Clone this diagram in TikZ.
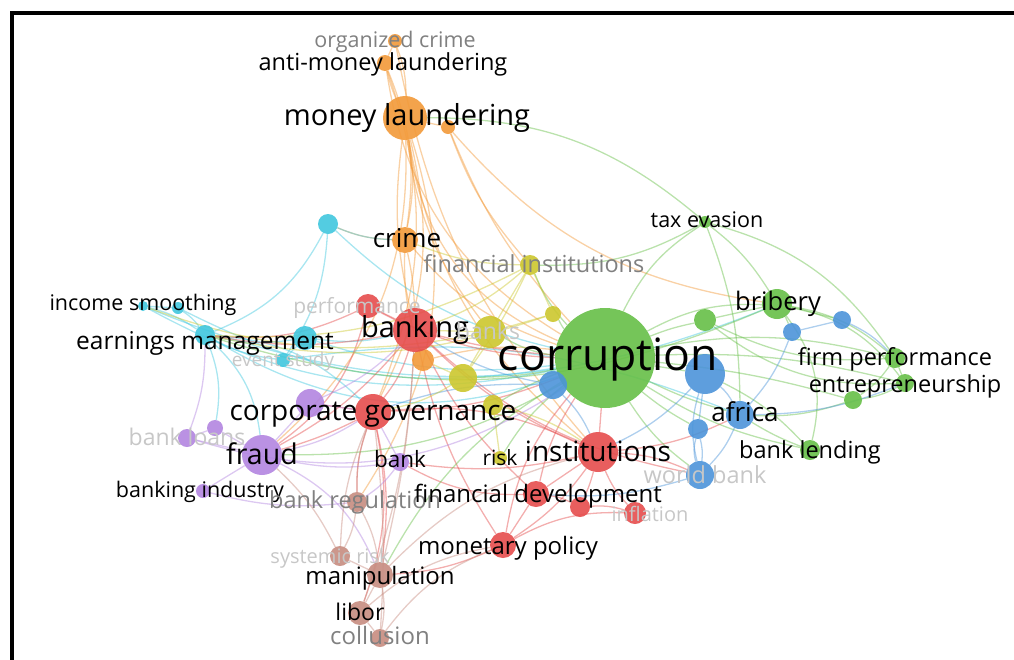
\documentclass[tikz,border=0pt]{standalone}
\usepackage{fontspec}
\setmainfont{Open Sans}
\usepackage{tikz}
\usetikzlibrary{backgrounds}
\definecolor{Orng}{rgb}{0.95,0.60,0.22}
\definecolor{Rd}{rgb}{0.90,0.30,0.30}
\definecolor{Grn}{rgb}{0.40,0.75,0.28}
\definecolor{Blu}{rgb}{0.30,0.58,0.85}
\definecolor{Cyn}{rgb}{0.25,0.78,0.87}
\definecolor{Ylw}{rgb}{0.80,0.78,0.18}
\definecolor{Prp}{rgb}{0.70,0.52,0.88}
\definecolor{Brn}{rgb}{0.78,0.55,0.50}
\newcommand{\lsz}[1]{\fontsize{#1}{#1}\selectfont}
\tikzset{
  kw/.style={circle, inner sep=0pt, fill opacity=0.9, draw=none},
  lbl/.style={inner sep=0pt, anchor=base, text=black},
  faint/.style={lbl, text=black!22},
  grey/.style={lbl, text=black!50},
  lnk/.style={line width=1.3pt, draw opacity=0.45},
}

\begin{document}
\begin{tikzpicture}[x=1pt, y=-1pt]

    \useasboundingbox (0,0) rectangle (1014,659);
    % frame
    \draw[line width=4pt] (12,13) rectangle (1040,690);

    % orange
    \node[kw, fill=Orng, minimum size=14pt] (orgc) at (395,41) {};
    \node[kw, fill=Orng, minimum size=16pt] (aml) at (385,63) {};
    \node[kw, fill=Orng, minimum size=44pt] (ml) at (405,118) {};
    \node[kw, fill=Orng, minimum size=14pt] (o1) at (448,127) {};
    \node[kw, fill=Orng, minimum size=26pt] (crime) at (405,240) {};
    \node[kw, fill=Orng, minimum size=22pt] (o2) at (423,360) {};
    % cyan
    \node[kw, fill=Cyn, minimum size=20pt] (c1) at (328,224) {};
    \node[kw, fill=Cyn, minimum size=10pt] (incs) at (143,306) {};
    \node[kw, fill=Cyn, minimum size=12pt] (c2) at (178,308) {};
    \node[kw, fill=Cyn, minimum size=20pt] (earn) at (205,335) {};
    \node[kw, fill=Cyn, minimum size=24pt] (c3) at (305,338) {};
    \node[kw, fill=Cyn, minimum size=14pt] (evst) at (283,360) {};
    % red
    \node[kw, fill=Rd, minimum size=24pt] (perf) at (368,306) {};
    \node[kw, fill=Rd, minimum size=44pt] (bkg) at (415,330) {};
    \node[kw, fill=Rd, minimum size=36pt] (cgov) at (373,412) {};
    \node[kw, fill=Rd, minimum size=40pt] (inst) at (598,452) {};
    \node[kw, fill=Rd, minimum size=26pt] (fdev) at (536,494) {};
    \node[kw, fill=Rd, minimum size=20pt] (r1) at (580,507) {};
    \node[kw, fill=Rd, minimum size=22pt] (infl) at (635,513) {};
    \node[kw, fill=Rd, minimum size=26pt] (mpol) at (503,545) {};
    % green
    \node[kw, fill=Grn, minimum size=100pt] (corr) at (605,358) {};
    \node[kw, fill=Grn, minimum size=12pt] (taxe) at (705,222) {};
    \node[kw, fill=Grn, minimum size=30pt] (brib) at (777,304) {};
    \node[kw, fill=Grn, minimum size=22pt] (g1) at (705,320) {};
    \node[kw, fill=Grn, minimum size=20pt] (firm) at (895,358) {};
    \node[kw, fill=Grn, minimum size=18pt] (entr) at (905,383) {};
    \node[kw, fill=Grn, minimum size=18pt] (g2) at (853,400) {};
    \node[kw, fill=Grn, minimum size=20pt] (blend) at (810,450) {};
    % blue
    \node[kw, fill=Blu, minimum size=28pt] (b1) at (553,385) {};
    \node[kw, fill=Blu, minimum size=40pt] (b2) at (705,374) {};
    \node[kw, fill=Blu, minimum size=18pt] (b3) at (792,332) {};
    \node[kw, fill=Blu, minimum size=18pt] (b4) at (842,320) {};
    \node[kw, fill=Blu, minimum size=28pt] (afr) at (740,415) {};
    \node[kw, fill=Blu, minimum size=20pt] (b5) at (698,429) {};
    \node[kw, fill=Blu, minimum size=28pt] (wbank) at (700,475) {};
    % yellow
    \node[kw, fill=Ylw, minimum size=20pt] (finst) at (530,265) {};
    \node[kw, fill=Ylw, minimum size=16pt] (y1) at (553,314) {};
    \node[kw, fill=Ylw, minimum size=32pt] (banks) at (490,332) {};
    \node[kw, fill=Ylw, minimum size=28pt] (y2) at (463,378) {};
    \node[kw, fill=Ylw, minimum size=20pt] (y3) at (493,405) {};
    \node[kw, fill=Ylw, minimum size=14pt] (risk) at (500,458) {};
    % purple
    \node[kw, fill=Prp, minimum size=28pt] (p1) at (310,403) {};
    \node[kw, fill=Prp, minimum size=16pt] (p2) at (215,428) {};
    \node[kw, fill=Prp, minimum size=18pt] (bloans) at (187,438) {};
    \node[kw, fill=Prp, minimum size=40pt] (fraud) at (262,455) {};
    \node[kw, fill=Prp, minimum size=18pt] (bank) at (400,462) {};
    \node[kw, fill=Prp, minimum size=14pt] (bind) at (203,491) {};
    % brown
    \node[kw, fill=Brn, minimum size=20pt] (breg) at (357,502) {};
    \node[kw, fill=Brn, minimum size=20pt] (syst) at (340,556) {};
    \node[kw, fill=Brn, minimum size=26pt] (manip) at (380,575) {};
    \node[kw, fill=Brn, minimum size=24pt] (libor) at (360,613) {};
    \node[kw, fill=Brn, minimum size=18pt] (coll) at (380,638) {};

    % links
    \begin{pgfonlayer}{background}
    \foreach \a/\b/\c/\d in {
      orgc/aml/Orng/0, aml/ml/Orng/-5, orgc/ml/Orng/10, aml/crime/Orng/15, aml/corr/Orng/-25,
      ml/crime/Orng/10, ml/o1/Orng/0, ml/bkg/Orng/-10, ml/corr/Orng/-30, ml/cgov/Orng/20,
      ml/fraud/Orng/25, ml/inst/Orng/-20, o1/corr/Orng/-10, o1/finst/Orng/-10, ml/banks/Orng/-15,
      crime/bkg/Orng/5, crime/corr/Orng/-15, crime/o2/Orng/-10, o2/corr/Orng/10, o2/bkg/Orng/0,
      crime/c1/Orng/10, ml/breg/Orng/25, aml/cgov/Orng/20, o1/brib/Orng/-20, orgc/inst/Orng/-15,
      c1/corr/Cyn/-15, c1/crime/Cyn/-10, c1/earn/Cyn/20, incs/c2/Cyn/0, c2/earn/Cyn/10,
      incs/earn/Cyn/10, earn/c3/Cyn/-10, c3/bkg/Cyn/-10, earn/corr/Cyn/-25, incs/corr/Cyn/-20,
      c2/corr/Cyn/-18, earn/cgov/Cyn/20, evst/c3/Cyn/0, evst/earn/Cyn/10, c3/corr/Cyn/-12,
      earn/fraud/Cyn/20, earn/p2/Cyn/15, c1/evst/Cyn/15, incs/brib/Cyn/-22, evst/afr/Cyn/15,
      perf/bkg/Rd/0, perf/corr/Rd/-12, bkg/corr/Rd/-5, bkg/cgov/Rd/10, bkg/inst/Rd/-10,
      bkg/fdev/Rd/-10, bkg/mpol/Rd/-10, bkg/earn/Rd/10, bkg/fraud/Rd/10, cgov/corr/Rd/-10,
      cgov/fraud/Rd/5, cgov/inst/Rd/15, cgov/breg/Rd/-10, cgov/manip/Rd/10, cgov/p1/Rd/0,
      inst/corr/Rd/0, inst/fdev/Rd/0, inst/r1/Rd/5, inst/infl/Rd/-10, inst/wbank/Rd/10,
      inst/afr/Rd/-10, fdev/corr/Rd/10, fdev/mpol/Rd/0, fdev/r1/Rd/10, r1/infl/Rd/10,
      mpol/corr/Rd/15, mpol/inst/Rd/-10, mpol/manip/Rd/10, mpol/infl/Rd/15, fdev/bank/Rd/15,
      cgov/libor/Rd/15, inst/bank/Rd/10, perf/earn/Rd/15, perf/fraud/Rd/20, bkg/wbank/Rd/-15,
      corr/taxe/Grn/15, corr/brib/Grn/15, corr/g1/Grn/5, corr/firm/Grn/12, corr/entr/Grn/8,
      corr/g2/Grn/5, corr/blend/Grn/-10, corr/afr/Grn/-5, corr/b2/Grn/0, corr/b1/Grn/0,
      corr/wbank/Grn/-10, corr/b5/Grn/-5, corr/finst/Grn/10, corr/banks/Grn/10, corr/y1/Grn/5,
      corr/y2/Grn/5, corr/y3/Grn/-5, corr/risk/Grn/-10, corr/fraud/Grn/15, corr/manip/Grn/-15,
      taxe/brib/Grn/10, taxe/firm/Grn/20, taxe/afr/Grn/10, taxe/finst/Grn/15, brib/firm/Grn/15,
      brib/entr/Grn/20, brib/g1/Grn/0, brib/b3/Grn/5, brib/b4/Grn/0, firm/entr/Grn/0,
      firm/g2/Grn/10, entr/g2/Grn/10, g2/afr/Grn/10, blend/afr/Grn/5, blend/b2/Grn/-10,
      g1/firm/Grn/-15, brib/blend/Grn/25, taxe/ml/Grn/-20, g1/entr/Grn/-20, earn/brib/Grn/-20,
      b2/afr/Blu/10, b2/b5/Blu/0, b2/wbank/Blu/-15, afr/wbank/Blu/10, b5/wbank/Blu/10,
      b5/wbank/Blu/-15, b3/b4/Blu/0, b3/afr/Blu/10, b4/firm/Blu/10, b1/inst/Blu/10,
      b1/cgov/Blu/-10, b2/inst/Blu/10, b1/bkg/Blu/10, afr/entr/Blu/-10, wbank/fdev/Blu/10,
      finst/banks/Ylw/0, finst/y1/Ylw/0, finst/bkg/Ylw/10, finst/crime/Ylw/10, banks/bkg/Ylw/0,
      banks/y2/Ylw/0, y2/o2/Ylw/0, y1/banks/Ylw/0, y2/cgov/Ylw/10, y3/risk/Ylw/0,
      y3/inst/Ylw/10, finst/earn/Ylw/15, banks/incs/Ylw/15, y1/earn/Ylw/15, finst/y2/Ylw/5,
      fraud/p1/Prp/0, fraud/p2/Prp/0, fraud/bloans/Prp/0, p2/bloans/Prp/0, fraud/bind/Prp/0,
      fraud/cgov/Prp/-10, fraud/bank/Prp/-10, p1/cgov/Prp/0, bank/cgov/Prp/0, bank/breg/Prp/10,
      fraud/manip/Prp/20, bloans/earn/Prp/-10, p1/bkg/Prp/-10, bind/breg/Prp/-10, bloans/corr/Prp/-25,
      breg/manip/Brn/10, breg/syst/Brn/10, syst/manip/Brn/0, manip/libor/Brn/0, libor/coll/Brn/0,
      manip/coll/Brn/10, breg/cgov/Brn/10, syst/cgov/Brn/10, manip/bkg/Brn/-5, libor/mpol/Brn/15,
      coll/mpol/Brn/15, manip/inst/Brn/15, syst/fraud/Brn/-10, libor/bkg/Brn/-8, coll/cgov/Brn/-5}
      \draw[lnk, draw=\c] (\a) to[bend left=\d] (\b);
    \end{pgfonlayer}

    % labels
    \node[grey, font=\lsz{21.5}] (Lorgc) at (395,47) {organized crime};
    \node[lbl, font=\lsz{23.5}] (Laml) at (383,70) {anti-money laundering};
    \node[lbl, font=\lsz{29}] (Lml) at (407,125) {money laundering};
    \node[lbl, font=\lsz{26}] (Lcrime) at (407,247) {crime};
    \node[grey, font=\lsz{23.5}] (Lfinst) at (534,272) {financial institutions};
    \node[lbl, font=\lsz{21.5}] (Ltaxe) at (707,227) {tax evasion};
    \node[lbl, font=\lsz{25.5}] (Lbrib) at (778,310) {bribery};
    \node[lbl, font=\lsz{21.5}] (Lincs) at (143,310) {income smoothing};
    \node[faint, font=\lsz{21}] (Lperf) at (357,313) {performance};
    \node[lbl, font=\lsz{29}] (Lbkg) at (415,337) {banking};
    \node[faint, font=\lsz{23}] (Lbanks) at (488,339) {banks};
    \node[lbl, font=\lsz{44.5}] (Lcorr) at (608,370) {corruption};
    \node[lbl, font=\lsz{24.5}] (Learn) at (205,349) {earnings management};
    \node[faint, font=\lsz{19}] (Levst) at (283,366) {event study};
    \node[lbl, font=\lsz{23.5}] (Lfirm) at (895,365) {firm performance};
    \node[lbl, font=\lsz{23.5}] (Lentr) at (905,392) {entrepreneurship};
    \node[lbl, font=\lsz{28}] (Lcgov) at (373,420) {corporate governance};
    \node[lbl, font=\lsz{26}] (Lafr) at (745,421) {africa};
    \node[faint, font=\lsz{23}] (Lbloans) at (187,445) {bank loans};
    \node[lbl, font=\lsz{28.5}] (Lfraud) at (262,464) {fraud};
    \node[lbl, font=\lsz{22.5}] (Lbank) at (400,467) {bank};
    \node[lbl, font=\lsz{21}] (Lrisk) at (500,465) {risk};
    \node[lbl, font=\lsz{28}] (Linst) at (598,461) {institutions};
    \node[lbl, font=\lsz{23.5}] (Lblend) at (810,458) {bank lending};
    \node[faint, font=\lsz{23.5}] (Lwbank) at (705,483) {world bank};
    \node[lbl, font=\lsz{21.5}] (Lbind) at (200,497) {banking industry};
    \node[grey, font=\lsz{23.5}] (Lbreg) at (355,508) {bank regulation};
    \node[lbl, font=\lsz{24}] (Lfdev) at (538,502) {financial development};
    \node[faint, font=\lsz{20}] (Linfl) at (650,521) {inflation};
    \node[lbl, font=\lsz{24}] (Lmpol) at (508,554) {monetary policy};
    \node[faint, font=\lsz{20}] (Lsyst) at (330,563) {systemic risk};
    \node[lbl, font=\lsz{24}] (Lmanip) at (380,584) {manipulation};
    \node[lbl, font=\lsz{23}] (Llibor) at (360,620) {libor};
    \node[grey, font=\lsz{24}] (Lcoll) at (380,644) {collusion};

\end{tikzpicture}
\end{document}
